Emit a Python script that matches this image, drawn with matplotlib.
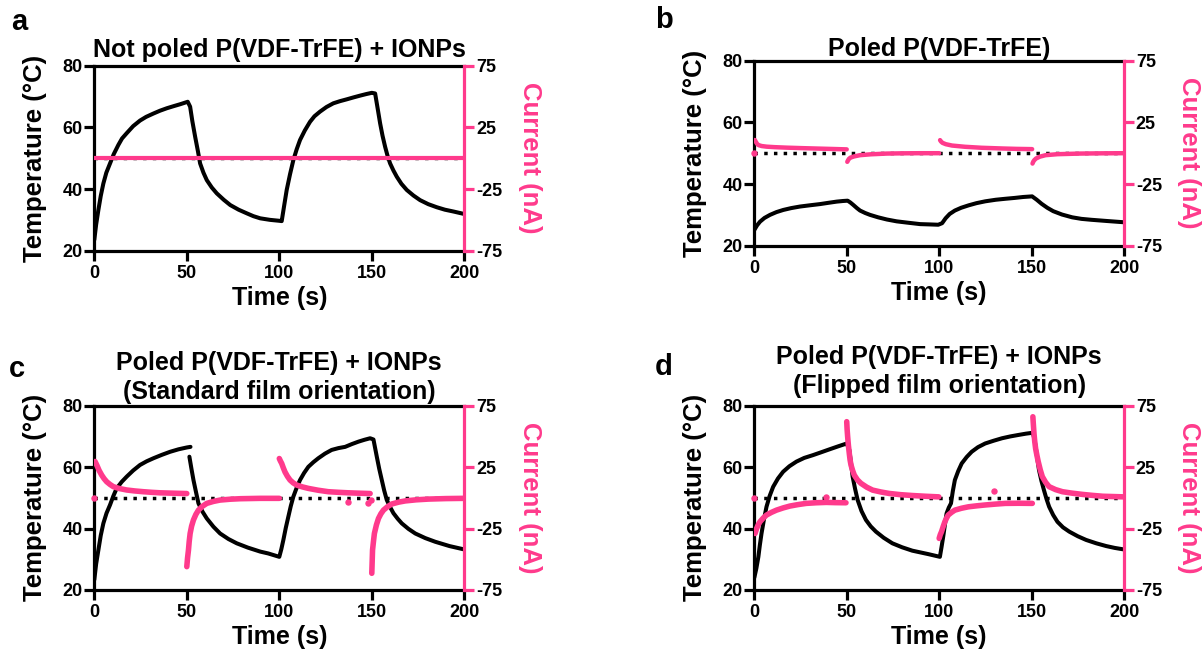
import numpy as np
import matplotlib
matplotlib.use("Agg")
import matplotlib.pyplot as plt

plt.rcParams["font.family"] = ["Liberation Sans", "DejaVu Sans"]
plt.rcParams["font.weight"] = "bold"
plt.rcParams["axes.labelweight"] = "bold"
plt.rcParams["axes.titleweight"] = "bold"
plt.rcParams["axes.unicode_minus"] = False

PINK = "#ff3a8c"
NAN = np.nan

# ---------------- panel a : not poled + IONPs ----------------
a_temp_t = [0, 1, 2.2, 3.5, 4.9, 6.5, 8.5, 10.5, 13, 15, 17.5, 21, 24.7, 28, 32, 35.5,
            39.2, 43, 46.4, 50.5,
            51.8, 53, 54.5, 56, 57.2, 59, 60.8, 63.5, 66.2, 70, 73.5, 78, 82.5, 86,
            89.7, 95, 100,
            101.3, 102.6, 104, 105.8, 107.6, 109.4, 111.2, 113.8, 116.6, 119, 122,
            125.5, 129.2, 132.8, 136.5, 140, 143.7, 147, 150, 151.8,
            153.2, 154.5, 155.8, 157.2, 158.5, 159.9, 161.7, 163.5, 166, 168.9,
            172.5, 176.1, 180.5, 185.1, 189.5, 194.2, 200]
a_temp = [23.5, 28.5, 33.2, 37.8, 41.8, 45.3, 48.3, 51.3, 54.3, 56.4, 58.1, 60.4, 62.2,
          63.4, 64.5, 65.4, 66.2, 66.9, 67.5, 68.3,
          66.7, 62.0, 57.0, 52.3, 48.3, 45.3, 42.9, 40.5, 38.6, 36.5, 34.8, 33.3, 32.1,
          31.2, 30.5, 30.0, 29.7,
          29.6, 34.5, 39.7, 44.8, 49.4, 52.9, 55.9, 59.0, 61.8, 63.6, 65.1,
          66.6, 67.8, 68.5, 69.1, 69.7, 70.3, 70.8, 71.2, 71.0,
          66.0, 61.3, 57.3, 53.7, 50.8, 48.3, 46.0, 44.0, 41.7, 39.7,
          37.9, 36.4, 35.1, 34.1, 33.3, 32.7, 31.9]
a_cur_t = [0, 50, 100, 150, 200]
a_cur = [0, 0, 0, 0, 0]

# ---------------- panel b : poled, no IONPs ----------------
b_temp_t = [0, 1.5, 3.1, 5.5, 8.5, 12, 15.7, 20, 24.7, 30, 35.6, 40, 44.6, 48, 50.5,
            52, 53.6, 55.5, 57.2, 60, 62.6, 67, 71.7, 77, 82.5, 89.7, 95, 99.5,
            101.6, 103.5, 105.7, 108.5, 111.9, 116, 120.2, 125, 130.6, 135.5, 140.9,
            145.5, 150.3,
            152.8, 155.4, 158.5, 161.7, 166.5, 172, 177, 182.4, 191, 200]
b_temp = [25.1, 26.6, 27.8, 29.0, 30.0, 30.9, 31.6, 32.2, 32.7, 33.1, 33.5, 33.9, 34.3,
          34.5, 34.6,
          34.0, 33.2, 32.2, 31.4, 30.6, 30.0, 29.2, 28.5, 27.9, 27.5, 27.0, 26.9, 26.8,
          27.3, 28.9, 30.3, 31.4, 32.3, 33.1, 33.8, 34.4, 34.9, 35.2, 35.5,
          35.8, 36.0,
          34.9, 33.6, 32.3, 31.2, 30.1, 29.2, 28.7, 28.4, 28.0, 27.6]
b_cur_t = [0.3, 0.8, 1.5, 2.2, 4, 6.7, 11, 17.5, 26, 35.6, 43, 50, NAN,
           50.3, 50.7, 51.2, 52, 54, 57.2, 63, 71.7, 80, 89.7, 100, NAN,
           100.5, 101, 101.8, 103.6, 107, 114, 123, 134.7, 142, 150.3, NAN,
           150.5, 150.9, 151.5, 152.4, 154.5, 157.6, 164, 176.2, 188, 200]
b_cur = [10.7, 9.3, 7.6, 6.6, 5.8, 5.3, 4.9, 4.5, 4.1, 3.7, 3.4, 3.1, NAN,
         -7.0, -5.8, -4.6, -3.6, -2.6, -1.6, -0.9, -0.3, -0.1, 0, 0, NAN,
         10.6, 9.5, 8.4, 7.3, 6.2, 5.2, 4.4, 3.8, 3.5, 3.3, NAN,
         -8.4, -6.9, -5.6, -4.3, -2.8, -1.6, -0.8, -0.3, -0.1, 0]
b_stray_t = [0]
b_stray = [0]

# ---------------- panel c : poled + IONPs, standard ----------------
c_temp_t = [0, 1, 2.2, 3.5, 4.9, 6.6, 8.5, 10.3, 12.1, 14.8, 17.5, 21, 24.7, 28.3, 32,
            36.5, 41, 45.5, 50, 52, NAN,
            51.4, 52.5, 53.6, 55, 56.3, 58.5, 60.8, 64.4, 68, 72.5, 77, 83, 89.7, 94,
            100,
            101.1, 102.2, 103.5, 104.9, 106.2, 107.6, 109.4, 111.2, 113.4, 115.7,
            118.4, 121.1, 124.7, 128.3, 132, 135.6, 139.2, 142.8, 146, 149.1, 150.9,
            152.7, 154, 155.4, 156.7, 158.1, 159.9, 161.7, 164, 166.2, 169.8, 173.5,
            178.9, 184.3, 192, 200]
c_temp = [23.3, 28.5, 33.0, 37.8, 41.7, 45.0, 47.7, 50.6, 53.1, 55.2, 56.9, 58.9, 60.7,
          61.9, 62.9, 64.0, 65.0, 65.8, 66.4, 66.6, NAN,
          63.4, 59.5, 55.8, 51.8, 48.2, 45.5, 43.3, 40.6, 38.4, 36.6, 35.2, 33.8, 32.5,
          31.9, 30.8,
          33.3, 36.3, 40.2, 43.9, 47.3, 50.4, 53.3, 55.8, 58.1, 60.1,
          61.6, 62.9, 64.4, 65.6, 66.2, 66.6, 67.5, 68.3, 68.9, 69.4, 69.0,
          63.4, 59.5, 55.8, 52.4, 49.3, 47.0, 45.0, 43.2, 41.7, 39.9, 38.4,
          36.9, 35.7, 34.3, 33.2]
c_cur_t = [0.4, 1.3, 2.6, 4.0, 5.3, 6.7, 8.5, 10.3, 13.5, 17.5, 22, 26.5, 31, 35.6,
           42.5, 50, NAN,
           50.0, 50.4, 50.9, 51.3, 51.8, 52.6, 53.6, 54.9, 56.3, 58.5, 60.8, 64.4, 68,
           73.5, 78.9, 89.7, 100, NAN,
           100, 100.6, 101.3, 102.2, 103.1, 104.4, 105.8, 107.5, 109.4, 112.5, 115.7,
           121, 126.5, 132, 137.4, 143, 149.1, NAN,
           150.0, 150.2, 150.4, 150.9, 151.4, 152.5, 153.6, 154.9, 156.3, 158.5,
           160.8, 164.5, 168.1, 174, 180.7, 190, 200]
c_cur = [29.6, 26.8, 22.3, 18.5, 15.6, 13.1, 10.9, 9.1, 7.6, 6.4, 5.6, 5.0, 4.5, 4.1,
         3.8, 3.5, NAN,
         -56, -49, -42.5, -35.5, -29, -23, -18, -13.5, -10, -6.8, -4.5, -2.9, -1.8,
         -1.1, -0.7, -0.4, -0.4, NAN,
         32, 30, 28, 24.3, 21, 17.5, 14.5, 12.2, 10.4, 8.9, 7.7,
         6.2, 5.0, 4.5, 4.1, 3.8, 3.5, NAN,
         -61.4, -52, -42.5, -35.5, -29, -22, -16.8, -13, -10, -7.2,
         -5.0, -3.5, -2.5, -1.6, -1.0, -0.6, -0.4]
c_stray_t = [0, 137.4, 148.2, 149.6]
c_stray = [0, -3.1, -4.5, -2.0]

# ---------------- panel d : poled + IONPs, flipped ----------------
d_temp_t = [0, 1.1, 2.2, 3.0, 3.9, 5.2, 6.6, 8.3, 10.2, 12.8, 15.6, 19, 22.8, 27, 31.7,
            36, 40.7, 45.5, 50,
            51.4, 52.3, 53.2, 54.5, 55.9, 58, 60.4, 63, 65.8, 70, 74.7, 80, 85.5, 94,
            100.4,
            101.3, 102.2, 103.1, 104, 105.2, 106.4, 107.4, 108.5, 110.3, 112.2, 114.9,
            117.6, 121, 124.9, 129.5, 134, 138.5, 143.1, 147, 150.7,
            151.5, 152.2, 153.1, 154, 155.3, 156.7, 158.1, 159.5, 161.7, 164, 167,
            170.4, 175, 179.5, 185, 190.4, 195, 200]
d_temp = [24.0, 27.0, 30.8, 34.6, 38.4, 42.9, 47.1, 50.6, 53.6, 56.3, 58.5, 60.3, 61.8,
          63.0, 63.9, 64.8, 65.8, 66.8, 67.7,
          65.6, 61.5, 56.9, 53.0, 49.3, 45.7, 42.8, 40.7, 39.0, 37.0, 35.2, 33.9, 32.8,
          31.7, 30.8,
          34.0, 37.4, 41.2, 44.9, 46.8, 48.2, 52.2, 55.8, 58.7, 61.2, 63.3,
          65.0, 66.5, 67.7, 68.6, 69.4, 70.0, 70.5, 70.9, 71.2,
          69.2, 66.7, 62.8, 59.1, 55.6, 52.5, 49.6, 47.1, 44.4, 42.2, 40.4,
          39.0, 37.5, 36.3, 35.2, 34.3, 33.7, 33.2]
d_cur_t = [0.4, 1.25, 2.1, 3.05, 4.8, 6.6, 9.3, 12, 15.6, 19.2, 23.6, 28.1, 33.5, 38.9,
           44, 49.6, NAN,
           50, 50.2, 50.5, 50.9, 51.4, 51.8, 52.3, 53.2, 54.1, 55.8, 57.7, 60.8, 64,
           68.4, 72.9, 79, 85.5, 92.5, 99.8, NAN,
           100, 100.6, 101.3, 102.2, 103.1, 104, 104.9, 106.7, 108.5, 112, 115.8,
           120.3, 124.9, 130.3, 135.8, 143, 150.4, NAN,
           150.7, 151, 151.3, 151.7, 152.2, 152.9, 153.6, 154.7, 155.8, 157.6, 159.5,
           163, 166.7, 172, 177.6, 183, 188.5, 200]
d_cur = [-29, -25, -22, -19.5, -16.5, -14, -11.8, -10, -8.2, -6.7, -5.5, -4.5, -4.0,
         -3.7, -3.9, -4.0, NAN,
         62, 56, 49.8, 42.8, 36, 31, 26.8, 22.2, 18.5, 14.6, 11.8, 8.7, 6.3,
         4.8, 3.6, 2.6, 1.9, 1.3, 0.8, NAN,
         -33, -30, -27.5, -23.3, -19.4, -16.5, -14, -11.8, -10, -8.5, -7.3,
         -6.5, -5.8, -5.1, -4.5, -4.4, -4.5, NAN,
         66, 59, 52.5, 46, 40, 34.5, 29.5, 22.8, 17.3, 12.6, 9.1,
         6.7, 5.0, 3.8, 2.8, 2.0, 1.3, 0.8]
d_stray_t = [0, 39, 129.5]
d_stray = [0, 0.5, 5.5]

W, H = 1203, 649


def rect(x0, y0, x1, y1):
    return [x0 / W, 1 - y1 / H, (x1 - x0) / W, (y1 - y0) / H]


def panel(fig, box, letter, letter_xy, title, title_pad,
          tt, temp, ct, cur, st=None, sc=None, dotted=True, cur_lw=4.0):
    ax = fig.add_axes(rect(*box))
    ax.set_xlim(0, 200)
    ax.set_ylim(20, 80)
    ax.set_xticks([0, 50, 100, 150, 200])
    ax.set_yticks([20, 40, 60, 80])
    for s in ("left", "bottom", "top"):
        ax.spines[s].set_linewidth(2.3)
    ax.spines["right"].set_visible(False)
    ax.tick_params(axis="y", length=7, width=2.3, labelsize=13, pad=1.5)
    ax.tick_params(axis="x", length=7, width=2.3, labelsize=13, pad=3)
    if dotted:
        ax.axhline(50, color="black", lw=2.5, ls=(0, (1, 1.8)), zorder=1.5)
    ax.plot(tt, temp, color="black", lw=2.9, solid_joinstyle="round",
            solid_capstyle="round", zorder=2)
    ax.set_xlabel("Time (s)", fontsize=18, labelpad=3)
    ax.set_ylabel("Temperature (°C)", fontsize=18.5, labelpad=11)
    ax.set_title(title, fontsize=18, pad=title_pad, linespacing=1.25)

    ax2 = ax.twinx()
    ax2.set_ylim(-75, 75)
    ax2.set_yticks([-75, -25, 25, 75])
    for s in ("left", "bottom", "top"):
        ax2.spines[s].set_visible(False)
    ax2.spines["right"].set_color(PINK)
    ax2.spines["right"].set_linewidth(2.3)
    ax2.tick_params(axis="y", length=7, width=2.3, colors=PINK,
                    labelcolor="black", labelsize=13, pad=1.5)
    ax2.plot(ct, cur, color=PINK, lw=cur_lw, solid_joinstyle="round",
             solid_capstyle="round")
    if st is not None:
        ax2.plot(st, sc, "o", color=PINK, ms=3.6, lw=0, clip_on=False)
    ax2.set_ylabel("Current (nA)", color=PINK, fontsize=18.5, rotation=270,
                   va="bottom", labelpad=11)

    fig.text(letter_xy[0] / W, 1 - letter_xy[1] / H, letter, fontsize=21,
             ha="center", va="center")
    return ax, ax2


fig = plt.figure(figsize=(W / 100, H / 100), dpi=100)

panel(fig, (94.3, 65.7, 464.3, 250.7), "a", (19, 22),
      "Not poled P(VDF-TrFE) + IONPs", 6,
      a_temp_t, a_temp, a_cur_t, a_cur, cur_lw=3.0)
panel(fig, (754.3, 60.7, 1124, 245.7), "b", (664, 20),
      "Poled P(VDF-TrFE)", 3,
      b_temp_t, b_temp, b_cur_t, b_cur, b_stray_t, b_stray, cur_lw=3.2)
panel(fig, (94.3, 405.7, 464.3, 590), "c", (17, 369),
      "Poled P(VDF-TrFE) + IONPs\n(Standard film orientation)", 5,
      c_temp_t, c_temp, c_cur_t, c_cur, c_stray_t, c_stray)
panel(fig, (754.3, 405.7, 1124, 590), "d", (664, 367),
      "Poled P(VDF-TrFE) + IONPs\n(Flipped film orientation)", 9,
      d_temp_t, d_temp, d_cur_t, d_cur, d_stray_t, d_stray)

fig.savefig("out.png", dpi=100)
